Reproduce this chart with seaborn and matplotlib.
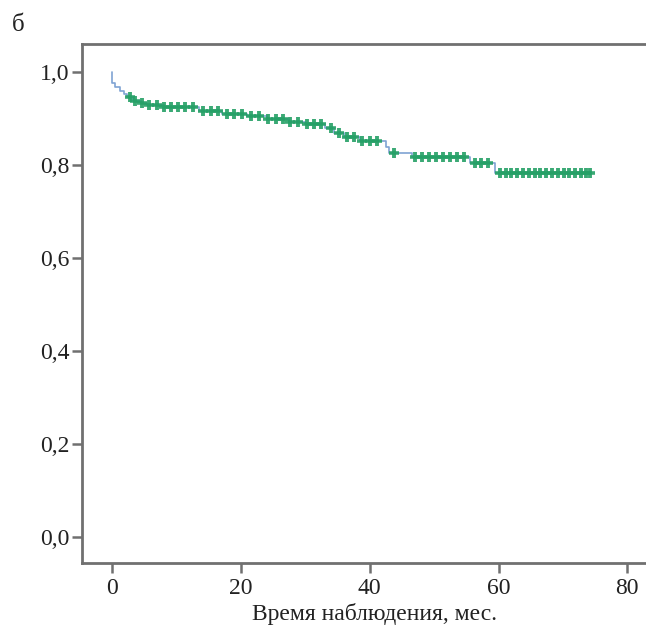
import numpy as np
import pandas as pd
import matplotlib
matplotlib.use("Agg")
import matplotlib.pyplot as plt
import seaborn as sns

# Kaplan-Meier step curve (time in months, survival after step)
step_times = [0.0, 0.05, 0.5, 1.2, 1.8, 2.4, 3.3, 4.5, 5.5, 8.0, 13.5, 17.0, 21.0, 24.0,
              27.5, 30.0, 33.0, 34.5, 36.0, 38.5, 42.5, 43.0, 46.5, 55.5, 59.5, 74.2]
step_surv = [1.0, 0.976, 0.968, 0.960, 0.953, 0.945, 0.938, 0.933, 0.928, 0.924, 0.917, 0.910,
             0.905, 0.898, 0.892, 0.888, 0.880, 0.868, 0.860, 0.852, 0.838, 0.826, 0.817,
             0.804, 0.783, 0.783]

# censored observations (months)
censor_times = [2.8, 3.6, 4.6, 5.8, 7.0, 8.1, 9.2, 10.3, 11.4, 12.5, 14.2, 15.4, 16.5, 17.8,
                19.0, 20.2, 21.6, 22.8, 24.2, 25.4, 26.5, 27.7, 28.9, 30.2, 31.3, 32.4, 34.0,
                35.3, 36.5, 37.6, 38.8, 40.0, 41.2, 43.8, 47.0, 48.1, 49.2, 50.3, 51.4, 52.5,
                53.6, 54.7, 56.3, 57.3, 58.4, 60.2, 61.1, 62.0, 62.9, 63.8, 64.7, 65.6, 66.5,
                67.4, 68.3, 69.2, 70.1, 71.0, 71.9, 72.8, 73.6, 74.2]

x_ticks = [0, 20, 40, 60, 80]
y_ticks = [0.0, 0.2, 0.4, 0.6, 0.8, 1.0]
y_tick_labels = ["0,0", "0,2", "0,4", "0,6", "0,8", "1,0"]
x_label = "Время наблюдения, мес."
panel_label = "б"

sns.set_style("white")
plt.rcParams["font.family"] = ["Liberation Serif", "DejaVu Serif"]

W, H = 646, 635
fig = plt.figure(figsize=(W / 100, H / 100), dpi=100)
ax = fig.add_axes([82 / W, 72 / H, 584 / W, 519 / H])

curve = pd.DataFrame({"t": step_times, "s": step_surv})
sns.lineplot(data=curve, x="t", y="s", ax=ax, estimator=None, sort=False,
             drawstyle="steps-post", color="#7fa3d3", linewidth=1.2)

# survival level at each censor time from the step curve
idx = np.searchsorted(np.array(step_times), np.array(censor_times), side="right") - 1
cens = pd.DataFrame({"t": censor_times, "s": np.array(step_surv)[idx]})
sns.scatterplot(data=cens, x="t", y="s", ax=ax, marker="|", s=60, linewidth=2.8,
                color="#25a066", zorder=3, alpha=0.9)
sns.scatterplot(data=cens, x="t", y="s", ax=ax, marker="_", s=45, linewidth=2.6,
                color="#25a066", zorder=3, alpha=0.9)

ax.set_xlim(-4.66, 86)
ax.set_ylim(-0.056, 1.060)
ax.set_xticks(x_ticks)
ax.set_xticklabels([str(v) for v in x_ticks])
ax.set_yticks(y_ticks)
ax.set_yticklabels(y_tick_labels)
ax.set_xlabel(x_label, fontsize=17, labelpad=3, color="#222222")
ax.set_ylabel("")

grey = "#707070"
for sp in ax.spines.values():
    sp.set_visible(True)
    sp.set_color(grey)
    sp.set_linewidth(2.0)
ax.tick_params(axis="both", direction="out", length=7, width=1.8, color=grey,
               labelsize=17, labelcolor="#222222", left=True, bottom=True)
ax.tick_params(axis="y", pad=2)
ax.tick_params(axis="x", pad=4)

fig.text(12 / W, 1 - 31 / H, panel_label, fontsize=18, color="#222222")

fig.savefig("out.png", dpi=100)
